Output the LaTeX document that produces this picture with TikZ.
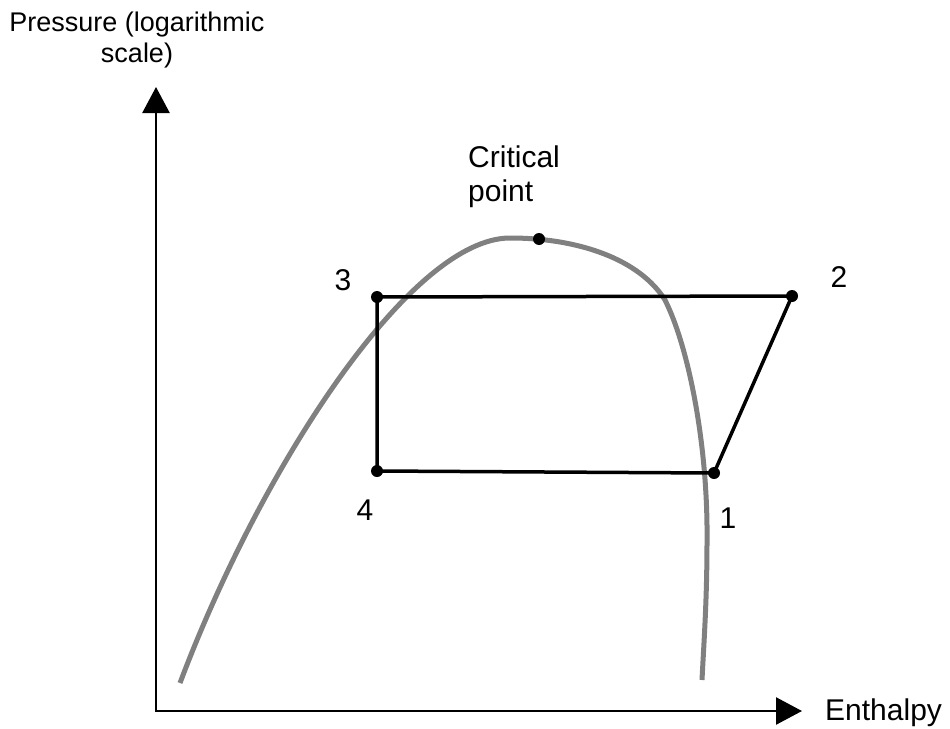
\documentclass[tikz,border=0pt]{standalone}
\usepackage{fontspec}
\setmainfont{Liberation Sans}
\usetikzlibrary{arrows.meta,positioning}
\tikzset{
  axis/.style = {line width=2.5pt, {Triangle[length=26pt,width=27pt]}-{Triangle[length=26pt,width=27pt]}},
  sat/.style  = {draw=black!50, line width=5pt},
  cyc/.style  = {line width=3.5pt, line join=miter},
  dot/.style  = {circle, fill=black, inner sep=0pt, minimum size=12pt},
  big/.style  = {font=\fontsize{30}{34}\selectfont, inner sep=0pt},
  sml/.style  = {font=\fontsize{27}{31}\selectfont, inner sep=0pt, align=center}
}

\begin{document}
\begin{tikzpicture}[x=1pt, y=-1pt]
  \useasboundingbox (0,0) rectangle (950,728);
  % axes
  \coordinate (O) at (156,711);
  \coordinate (ytip) at (156,87);
  \coordinate (xtip) at (802,711);
  \draw[axis] (ytip) -- (O) -- (xtip);
  \node[sml, anchor=north] (ylab) at (137,12) {Pressure (logarithmic\\scale)};
  \node[big, anchor=west] (xlab) at (825,713) {Enthalpy};
  % saturation dome
  \coordinate (dl) at (180,683);
  \coordinate (dtop) at (510,238);
  \coordinate (dknee) at (665,300);
  \coordinate (dlow) at (707,540);
  \coordinate (dr) at (702,680);
  \draw[sat] (dl) .. controls (260,470) and (410,238) .. (dtop)
             .. controls (580,238) and (640,260) .. (dknee)
             .. controls (690,350) and (708,450) .. (dlow)
             .. controls (707,600) and (704,640) .. (dr);
  % critical point
  \node[dot] (crit) at (539,239) {};
  \node[big, align=left, anchor=north west] (critlab) at (468,146) {Critical\\point};
  % cycle
  \coordinate (p1) at (714,473);
  \coordinate (p2) at (792,296);
  \coordinate (p3) at (377,297);
  \coordinate (p4) at (377,471);
  \draw[cyc] (p3) -- (p2) -- (p1) -- (p4) -- cycle;
  \foreach \p in {p1,p2,p3,p4} \node[dot] at (\p) {};
  \node[big, anchor=base] (l1) at (728,528) {1};
  \node[big, anchor=base] (l2) at (839,287) {2};
  \node[big, anchor=base] (l3) at (343,290) {3};
  \node[big, anchor=base] (l4) at (365,520) {4};
\end{tikzpicture}
\end{document}
